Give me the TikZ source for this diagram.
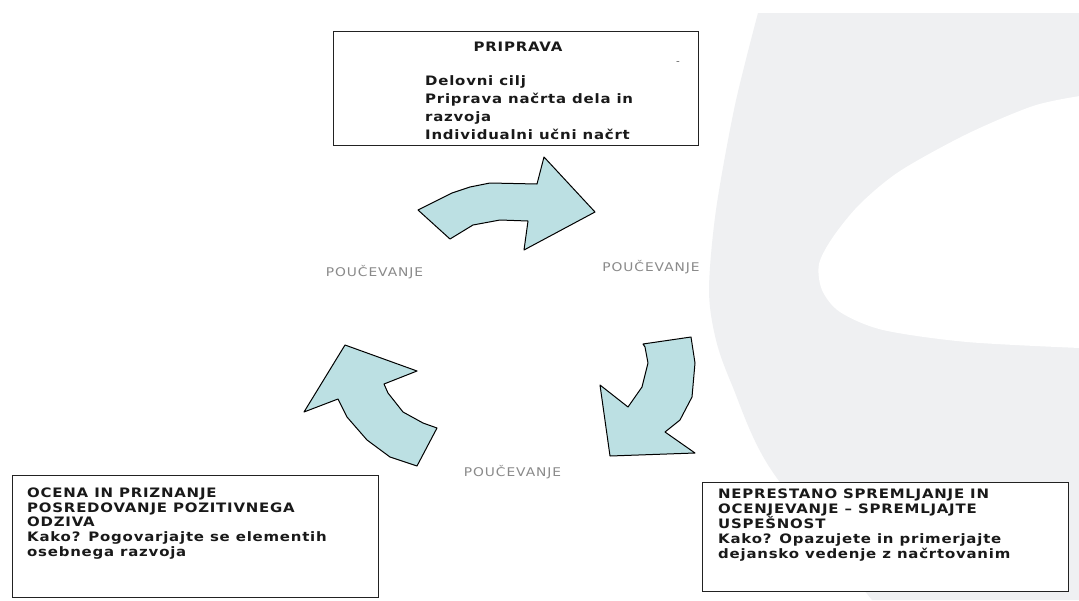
\documentclass[tikz,border=0pt]{standalone}
\usepackage{fontspec}
\newfontfamily\boxfont[FakeStretch=1.15,LetterSpace=6]{DejaVu Sans}
\newfontfamily\tagfont[FakeStretch=1.15,LetterSpace=8]{DejaVu Sans}
\definecolor{wash}{HTML}{EFF0F2}
\definecolor{cyclefill}{HTML}{BCE0E3}
\definecolor{framecol}{HTML}{222222}
\definecolor{tagcol}{HTML}{8A8A8A}

\begin{document}
\begin{tikzpicture}[x=1pt,y=-1pt,
  infobox/.style={draw=framecol,line width=1.3pt,fill=white,anchor=north west,inner sep=0pt},
  boxtext/.style={font=\boxfont\bfseries\fontsize{13}{14.8}\selectfont,align=left,anchor=north west,inner sep=0pt,text=black!90},
  tag/.style={font=\tagfont\fontsize{12}{14}\selectfont,text=tagcol,inner sep=0pt},
  cyclearrow/.style={fill=cyclefill,draw=black,line width=1pt,line join=round}]

% page
\fill[white] (0,0) rectangle (1079,600);
\useasboundingbox (0,0) rectangle (1079,600);

% pale crescent in the background
\fill[wash] plot[smooth] coordinates {(758,13) (735,105) (716,210) (709,290) (716,340) (732,385) (770,468) (872,600)}
  -- (1079,600) -- (1079,13) -- cycle;
\fill[white] plot[smooth] coordinates {(1080,96) (1033,106) (967,134) (900,171) (860,204) (833,237) (819,264) (822,290) (840,312) (883,330) (967,342) (1080,348)} -- cycle;

% three curved arrows of the cycle
\filldraw[cyclearrow] (418,210) -- (452,193) -- (470,187) -- (490,183) -- (537,184) -- (544,157)
  -- (595,212) -- (524,250) -- (528,221) -- (500,220) -- (473,225) -- (450,239) -- cycle;
\filldraw[cyclearrow] (643,344) -- (691,337) -- (695,363) -- (692,397) -- (680,420) -- (665,432)
  -- (695,453) -- (610,456) -- (600,385) -- (628,407) -- (642,387) -- (648,363) -- (645,347) -- cycle;
\filldraw[cyclearrow] (345,345) -- (417,371) -- (384,384) -- (388,393) -- (403,412) -- (423,423)
  -- (437,428) -- (417,466) -- (390,457) -- (367,440) -- (347,417) -- (338,399) -- (304,412) -- cycle;

% boxes
\node[infobox,minimum width=365pt,minimum height=114pt] (prep) at (333,31) {};
\node[infobox,minimum width=366pt,minimum height=122pt] (assess) at (12,475) {};
\node[infobox,minimum width=366pt,minimum height=109pt] (monitor) at (702,482) {};

% box texts
\node[boxtext,anchor=center] (preptitle) at (518,47) {PRIPRAVA};
\node[font=\tagfont\fontsize{9}{10}\selectfont,text=black!70,inner sep=0pt] (prepdash) at (678,63) {-};
\node[boxtext,font=\boxfont\bfseries\fontsize{13}{18}\selectfont] (preplist) at (425,75.5)
  {Delovni cilj\\Priprava načrta dela in\\razvoja\\Individualni učni načrt};
\node[boxtext] (assesstext) at (27,487.5)
  {OCENA IN PRIZNANJE\\POSREDOVANJE POZITIVNEGA\\ODZIVA\\Kako? Pogovarjajte se elementih\\osebnega razvoja};
\node[boxtext] (monitortext) at (718,489)
  {NEPRESTANO SPREMLJANJE IN\\OCENJEVANJE – SPREMLJAJTE\\USPEŠNOST\\Kako? Opazujete in primerjajte\\dejansko vedenje z načrtovanim};

% labels between the arrows
\node[tag] (teachleft) at (374.5,272) {POUČEVANJE};
\node[tag] (teachright) at (651,267) {POUČEVANJE};
\node[tag] (teachbottom) at (512.5,472) {POUČEVANJE};
\end{tikzpicture}
\end{document}
